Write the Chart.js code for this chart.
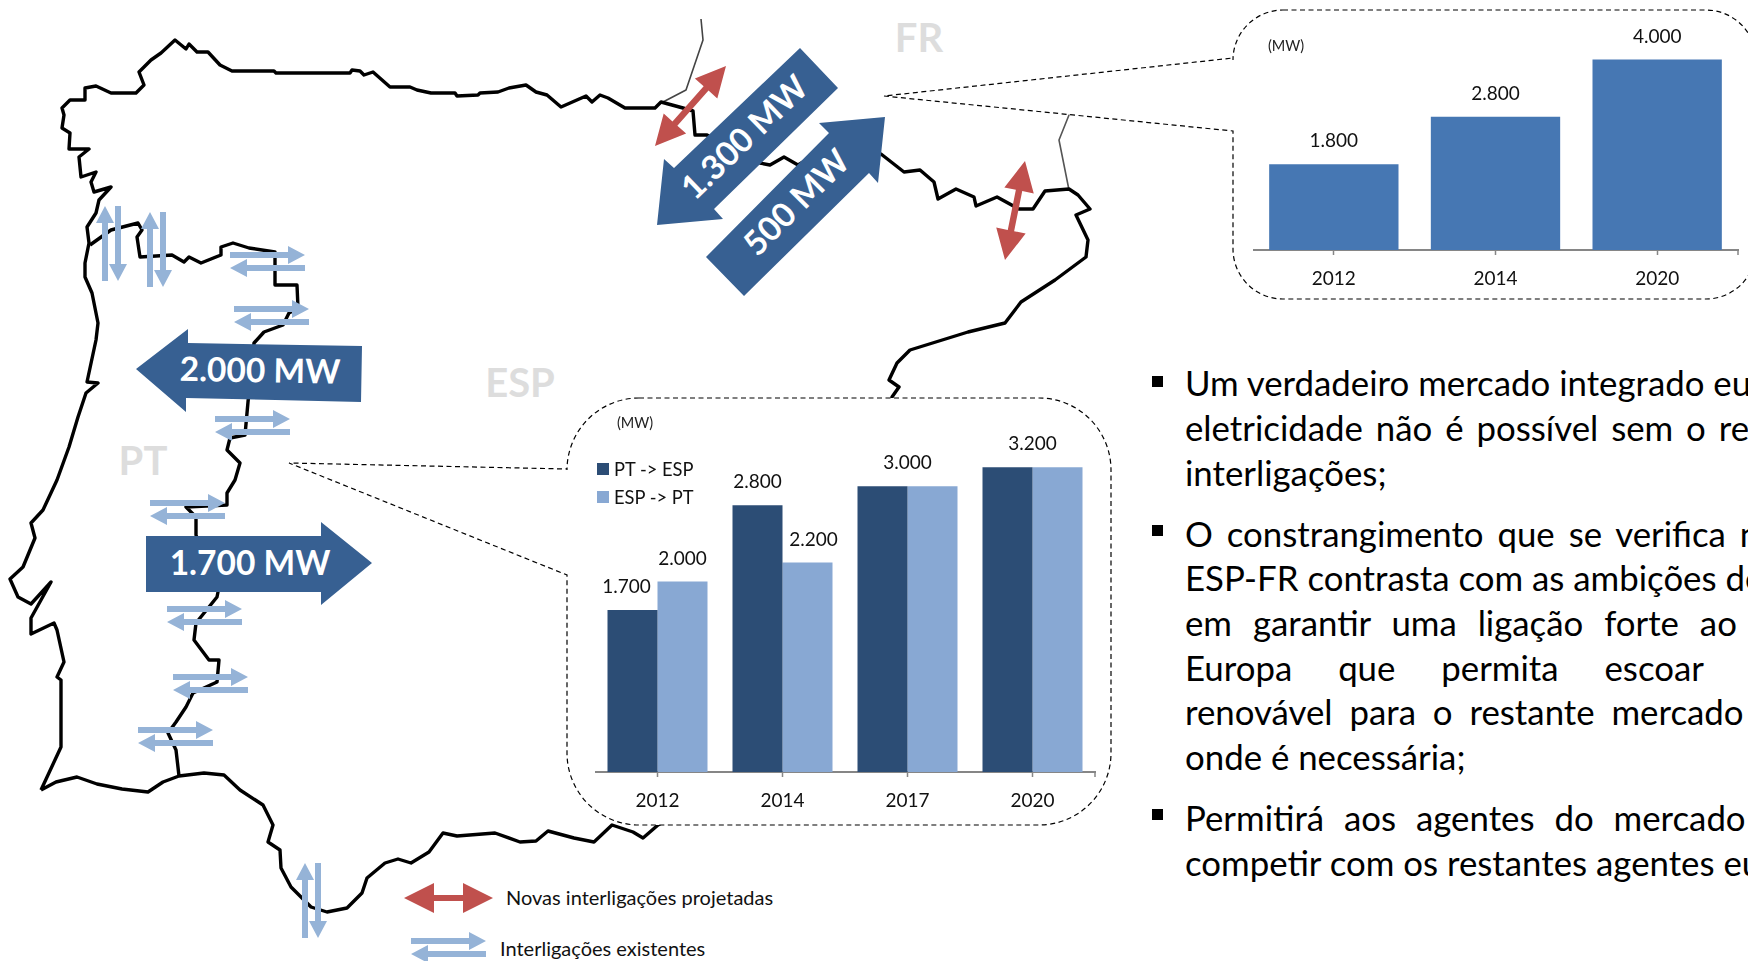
<!DOCTYPE html>
<html lang="pt">
<head>
<meta charset="utf-8">
<title>Interligações ESP-PT e ESP-FR</title>
<script src="https://cdn.jsdelivr.net/npm/chart.js@4"></script>
<style>
    html, body { margin: 0; padding: 0; background: #fff; }
    #page {
        position: relative;
        width: 1748px;
        height: 961px;
        overflow: hidden;
        font-family: Lato, sans-serif;
        color: #000;
    }
    #page svg { position: absolute; left: 0; top: 0; }
    #page canvas { position: absolute; }
    .txt { position: absolute; white-space: nowrap; line-height: 1; }
    .country { font-weight: 700; font-size: 40px; color: #ddd; transform: translate(-50%, -50%); }
    .big {
        font-weight: 700;
        font-size: 33.5px;
        color: #fff;
        transform: translate(-50%, -50%) rotate(var(--rot, 0deg));
    }
    .unit { font-size: 14.5px; color: #222; transform: translateY(-50%); }
    .legend-key { position: absolute; width: 12px; height: 12px; }
    .legend-label { font-size: 18.3px; color: #111; transform: translateY(-50%); }
    .note { font-size: 20px; color: #111; transform: translateY(-50%); }
    .source { font-size: 19px; color: #555; transform: translateY(-50%); }
    .bullet-line { font-size: 34.8px; color: #000; transform: translateY(-50%); }
    .bullet { position: absolute; width: 11px; height: 11px; background: #000; }
</style>
</head>
<body>
<div id="page">
    <svg id="mapLayer" width="1748" height="961"></svg>
    <canvas id="ptChart" width="502" height="425" style="left:595px;top:391px"></canvas>
    <canvas id="frChart" width="487" height="282" style="left:1253px;top:12px"></canvas>
</div>

<script>
// Capacidade de interligação (MW)
const ptYears = ['2012', '2014', '2017', '2020'];
const ptToEsp = [1700, 2800, 3000, 3200];
const espToPt = [2000, 2200, 3000, 3200];
const frYears = ['2012', '2014', '2020'];
const espFr = [1800, 2800, 4000];

const FONT = 'Lato, sans-serif';
const DARK_BLUE = '#2c4d75';
const LIGHT_BLUE = '#88a8d3';
const MID_BLUE = '#4677b3';
const ARROW_BLUE = '#376092';
const PALE_ARROW = '#95b3d7';
const RED_ARROW = '#c0504d';

const page = document.getElementById('page');
const svg = document.getElementById('mapLayer');

// Contorno da Península Ibérica
const coast = [
    [41,790],[61,747],[61,680],[57,677],[64,662],[57,630],[54,623],[31,634],[31,618],[51,582],[31,604],[18,597],
    [10,579],[23,567],[35,538],[31,523],[43,510],[57,480],[69,447],[78,417],[86,393],[98,383],[87,382],[96,340],
    [98,323],[92,293],[85,277],[85,263],[89,243],[87,227],[96,213],[99,200],[111,187],[94,192],[91,182],[96,172],
    [81,177],[79,157],[89,149],[69,149],[70,133],[62,128],[64,115],[62,108],[70,100],[85,100],[85,88],[96,86],
    [111,93],[136,93],[144,85],[139,72],[151,60],[161,53],[175,40],[186,49],[189,44],[197,52],[208,52],[220,65],
    [232,71],[274,71],[276,73],[350,73],[352,70],[360,71],[364,75],[373,72],[390,87],[410,87],[417,90],[431,93],
    [455,93],[457,96],[478,95],[480,93],[498,92],[509,88],[526,85],[536,92],[547,95],[561,107],[586,96],[592,102],
    [600,95],[608,98],[625,108],[655,108],[661,102],[683,108],[693,111],[695,135],[707,135],[719,143],[740,155],
    [760,163],[770,165],[784,157],[798,165],[840,140],[881,154],[904,172],[920,170],[934,182],[938,199],[956,189],
    [974,197],[976,206],[997,197],[1019,209],[1033,209],[1045,191],[1069,189],[1078,195],[1090,209],[1076,215],
    [1088,240],[1086,257],[1055,280],[1021,302],[1005,323],[968,332],[910,350],[897,363],[889,380],[899,387],
    [892,397],[892,420],[700,800],[658,825],[643,838],[633,832],[612,825],[594,842],[574,838],[548,831],[536,841],
    [520,842],[495,833],[457,836],[443,833],[429,852],[411,863],[398,859],[385,863],[367,878],[362,893],[347,908],
    [327,912],[311,907],[291,887],[281,868],[280,850],[268,842],[273,825],[263,805],[240,790],[224,775],[204,773],
    [179,776],[163,782],[148,792],[122,789],[97,784],[77,777],[56,782],[41,790]
];
const ptBorder = [
    [179,776],[176,750],[168,733],[176,722],[186,707],[193,693],[217,682],[219,660],[209,660],[194,640],[196,623],
    [217,597],[218,592],[196,535],[196,517],[186,507],[227,505],[227,493],[235,480],[240,463],[227,450],[230,438],
    [245,435],[248,402],[254,343],[264,332],[283,325],[289,313],[298,308],[297,285],[275,285],[275,252],[249,248],
    [233,243],[221,247],[221,255],[201,263],[189,257],[184,262],[172,255],[140,257],[137,237],[142,230],[138,223],
    [111,230],[90,245]
];
const frBorderWest = [[701,19],[703,40],[686,90],[663,102]];
const frBorderEast = [[1092,92],[1071,110],[1059,140],[1069,190]];

function svgEl(tag, attrs) {
    const el = document.createElementNS('http://www.w3.org/2000/svg', tag);
    Object.keys(attrs).forEach(k => el.setAttribute(k, attrs[k]));
    svg.appendChild(el);
    return el;
}

function outline(points, width, color) {
    svgEl('polyline', {
        points: points.map(p => p.join(',')).join(' '),
        fill: 'none', stroke: color, 'stroke-width': width, 'stroke-linejoin': 'round'
    });
}

function polygon(points, fill) {
    svgEl('polygon', { points: points.map(p => p.join(',')).join(' '), fill: fill });
}

// Seta simples ou dupla entre dois pontos
function arrow(x1, y1, x2, y2, opts) {
    const len = Math.hypot(x2 - x1, y2 - y1);
    const ux = (x2 - x1) / len, uy = (y2 - y1) / len;
    const nx = -uy, ny = ux;
    const at = (along, off) => [x1 + ux * along + nx * off, y1 + uy * along + ny * off];
    const s = opts.shaft / 2, h = opts.head / 2, l = opts.length;
    const pts = [];
    if (opts.both) {
        pts.push(at(0, 0), at(l, -h), at(l, -s));
    } else {
        pts.push(at(0, -s));
    }
    pts.push(at(len - l, -s), at(len - l, -h), at(len, 0), at(len - l, h), at(len - l, s));
    if (opts.both) {
        pts.push(at(l, s), at(l, h));
    } else {
        pts.push(at(0, s));
    }
    polygon(pts, opts.color);
}

function palePair(x, y) {
    const cfg = { shaft: 6, head: 18, length: 17, color: PALE_ARROW };
    arrow(x, y, x + 75, y, cfg);
    arrow(x + 75, y + 13, x, y + 13, cfg);
}

function paleVerticalPair(x, top) {
    const cfg = { shaft: 6, head: 18, length: 17, color: PALE_ARROW };
    arrow(x, top + 75, x, top, cfg);
    arrow(x + 13, top, x + 13, top + 75, cfg);
}

function redArrow(x1, y1, x2, y2) {
    arrow(x1, y1, x2, y2, { shaft: 6.5, head: 30, length: 30, color: RED_ARROW, both: true });
}

// Balão tracejado com ponteiro
function callout(left, top, right, bottom, r, tip, gapA, gapB) {
    const d = [
        `M${left + r} ${top} H${right - r} A${r} ${r} 0 0 1 ${right} ${top + r}`,
        `V${bottom - r} A${r} ${r} 0 0 1 ${right - r} ${bottom}`,
        `H${left + r} A${r} ${r} 0 0 1 ${left} ${bottom - r}`,
        `V${gapB} L${tip[0]} ${tip[1]} L${left} ${gapA}`,
        `V${top + r} A${r} ${r} 0 0 1 ${left + r} ${top} Z`
    ].join(' ');
    svgEl('path', { d: d, fill: '#fff', stroke: '#000', 'stroke-width': 1.2, 'stroke-dasharray': '5 3.5' });
}

function addText(cls, text, x, y, extra) {
    const el = document.createElement('div');
    el.className = 'txt ' + cls;
    el.textContent = text;
    el.style.left = x + 'px';
    el.style.top = y + 'px';
    if (extra) Object.keys(extra).forEach(k => el.style.setProperty(k, extra[k]));
    page.appendChild(el);
    return el;
}

function drawMap() {
    outline(frBorderWest, 1.6, '#444');
    outline(frBorderEast, 1.6, '#555');
    outline(coast, 3.4, '#000');
    outline(ptBorder, 3.4, '#000');

    callout(567, 398, 1111, 825, 72, [289, 463], 469, 575);
    callout(1233, 10, 1756, 299, 50, [884, 96], 58, 131);

    [[230,255],[234,309],[215,419],[150,503],[167,609],[173,677],[138,730]].forEach(p => palePair(p[0], p[1]));
    paleVerticalPair(105, 206);
    paleVerticalPair(150, 212);
    paleVerticalPair(305, 863);

    redArrow(726, 66, 655, 146);
    redArrow(1025, 161, 1005, 260);

    // Setas de capacidade
    polygon([[136,369],[188,329],[188,343],[362,346],[361,402],[186,398],[186,412]], ARROW_BLUE);
    polygon([[146,536],[321,536],[321,522],[372,563],[321,605],[321,592],[146,592]], ARROW_BLUE);
    polygon([[800,48],[838,88],[714,209],[723,219],[657,225],[664,159],[674,168]], ARROW_BLUE);
    polygon([[706,257],[744,296],[869,173],[878,183],[885,117],[819,123],[829,133]], ARROW_BLUE);

    // Legenda das setas
    arrow(404, 898, 493, 898, { shaft: 6, head: 30, length: 30, color: RED_ARROW, both: true });
    palePair(411, 941);

    addText('country', 'FR', 919, 37);
    addText('country', 'ESP', 520, 382);
    addText('country', 'PT', 143, 460);

    addText('big', '2.000 MW', 260, 370, { '--rot': '1deg' });
    addText('big', '1.700 MW', 250, 563);
    addText('big', '1.300 MW', 744, 137, { '--rot': '-44deg' });
    addText('big', '500 MW', 796, 202, { '--rot': '-45deg' });

    addText('note', 'Novas interligações projetadas', 506, 897);
    addText('note', 'Interligações existentes', 500, 948);
    addText('source', 'Fonte: REN, ENTSO-E', 48, 967);

    addText('unit', '(MW)', 617, 423);
    addText('unit', '(MW)', 1268, 46);
}

// Texto à direita, com o espaçamento das linhas justificadas
const bulletLines = [
    ['Um verdadeiro mercado integrado europeu de', 383, 0],
    ['eletricidade não é possível sem o reforço das', 427.5, 4],
    ['interligações;', 472.5, 0],
    ['O constrangimento que se verifica na fronteira', 533.5, 5],
    ['ESP-FR contrasta com as ambições de Espanha', 578, 0],
    ['em garantir uma ligação forte ao resto da', 622.5, 12],
    ['Europa que permita escoar a produção', 667.5, 37],
    ['renovável para o restante mercado europeu', 711.5, 8],
    ['onde é necessária;', 756.5, 0],
    ['Permitirá aos agentes do mercado ibérico', 817.5, 11],
    ['competir com os restantes agentes europeus', 862.5, 0]
];

function drawBullets() {
    bulletLines.forEach(line => {
        addText('bullet-line', line[0], 1185, line[1], { 'word-spacing': line[2] + 'px' });
    });
    [381, 530, 814].forEach(y => {
        const b = document.createElement('div');
        b.className = 'bullet';
        b.style.left = '1152px';
        b.style.top = y - 5.5 + 'px';
        page.appendChild(b);
    });
}

function drawKeys() {
    const keys = [['PT -> ESP', DARK_BLUE, 469], ['ESP -> PT', LIGHT_BLUE, 497]];
    keys.forEach(k => {
        const sq = document.createElement('div');
        sq.className = 'legend-key';
        sq.style.cssText = `left:597px;top:${k[2] - 6}px;background:${k[1]}`;
        page.appendChild(sq);
        addText('legend-label', k[0], 614, k[2]);
    });
}

const formatMW = v => String(v).replace(/\B(?=(\d{3})+$)/g, '.');

// Rótulos por cima das barras; pares iguais têm um só rótulo ao centro
const barLabels = {
    id: 'barLabels',
    afterDatasetsDraw(chart) {
        const ctx = chart.ctx;
        const sets = chart.data.datasets;
        ctx.save();
        ctx.font = '19px ' + FONT;
        ctx.fillStyle = '#111';
        ctx.textAlign = 'center';
        ctx.textBaseline = 'middle';
        chart.data.labels.forEach((_, i) => {
            const bars = sets.map((s, d) => chart.getDatasetMeta(d).data[i]);
            const vals = sets.map(s => s.data[i]);
            if (sets.length === 2 && vals[0] === vals[1]) {
                ctx.fillText(formatMW(vals[0]), (bars[0].x + bars[1].x) / 2, bars[0].y - 23);
                return;
            }
            bars.forEach((bar, d) => {
                let nudge = 0;
                if (sets.length === 2 && vals[d] < vals[1 - d]) nudge = d === 0 ? -6 : 6;
                ctx.fillText(formatMW(vals[d]), bar.x + nudge, bar.y - 23);
            });
        });
        ctx.restore();
    }
};

// Último traço do eixo, no fim da escala
const axisEndTick = {
    id: 'axisEndTick',
    afterDraw(chart) {
        const x = chart.scales.x;
        const ctx = chart.ctx;
        ctx.save();
        ctx.strokeStyle = '#868686';
        ctx.lineWidth = 1.5;
        ctx.beginPath();
        ctx.moveTo(x.right, x.top);
        ctx.lineTo(x.right, x.top + 5);
        ctx.stroke();
        ctx.restore();
    }
};

function barOptions(maxValue) {
    return {
        responsive: false,
        animation: false,
        devicePixelRatio: 1,
        layout: { padding: { left: 0, right: 2, top: 0, bottom: 0 } },
        plugins: { legend: { display: false }, tooltip: { enabled: false } },
        scales: {
            y: { display: false, min: 0, max: maxValue },
            x: {
                afterFit(scale) { scale.height = 44; },
                border: { color: '#868686', width: 2 },
                grid: { drawOnChartArea: false, offset: false, tickLength: 5, tickColor: '#868686', tickWidth: 1.5 },
                ticks: { color: '#111', font: { family: FONT, size: 19 }, padding: 12, maxRotation: 0 }
            }
        }
    };
}

function initCharts() {
    new Chart(document.getElementById('ptChart'), {
        type: 'bar',
        data: {
            labels: ptYears,
            datasets: [
                { label: 'PT -> ESP', data: ptToEsp, backgroundColor: DARK_BLUE, categoryPercentage: 0.8, barPercentage: 1 },
                { label: 'ESP -> PT', data: espToPt, backgroundColor: LIGHT_BLUE, categoryPercentage: 0.8, barPercentage: 1 }
            ]
        },
        options: barOptions(4000),
        plugins: [barLabels, axisEndTick]
    });

    new Chart(document.getElementById('frChart'), {
        type: 'bar',
        data: {
            labels: frYears,
            datasets: [
                { label: 'ESP <-> FR', data: espFr, backgroundColor: MID_BLUE, categoryPercentage: 0.8, barPercentage: 1 }
            ]
        },
        options: barOptions(5000),
        plugins: [barLabels, axisEndTick]
    });
}

document.addEventListener('DOMContentLoaded', () => {
    drawMap();
    drawBullets();
    drawKeys();
    // As fontes locais têm de estar prontas antes de desenhar no canvas
    document.fonts.load('18px Lato').finally(initCharts);
});
</script>
</body>
</html>
